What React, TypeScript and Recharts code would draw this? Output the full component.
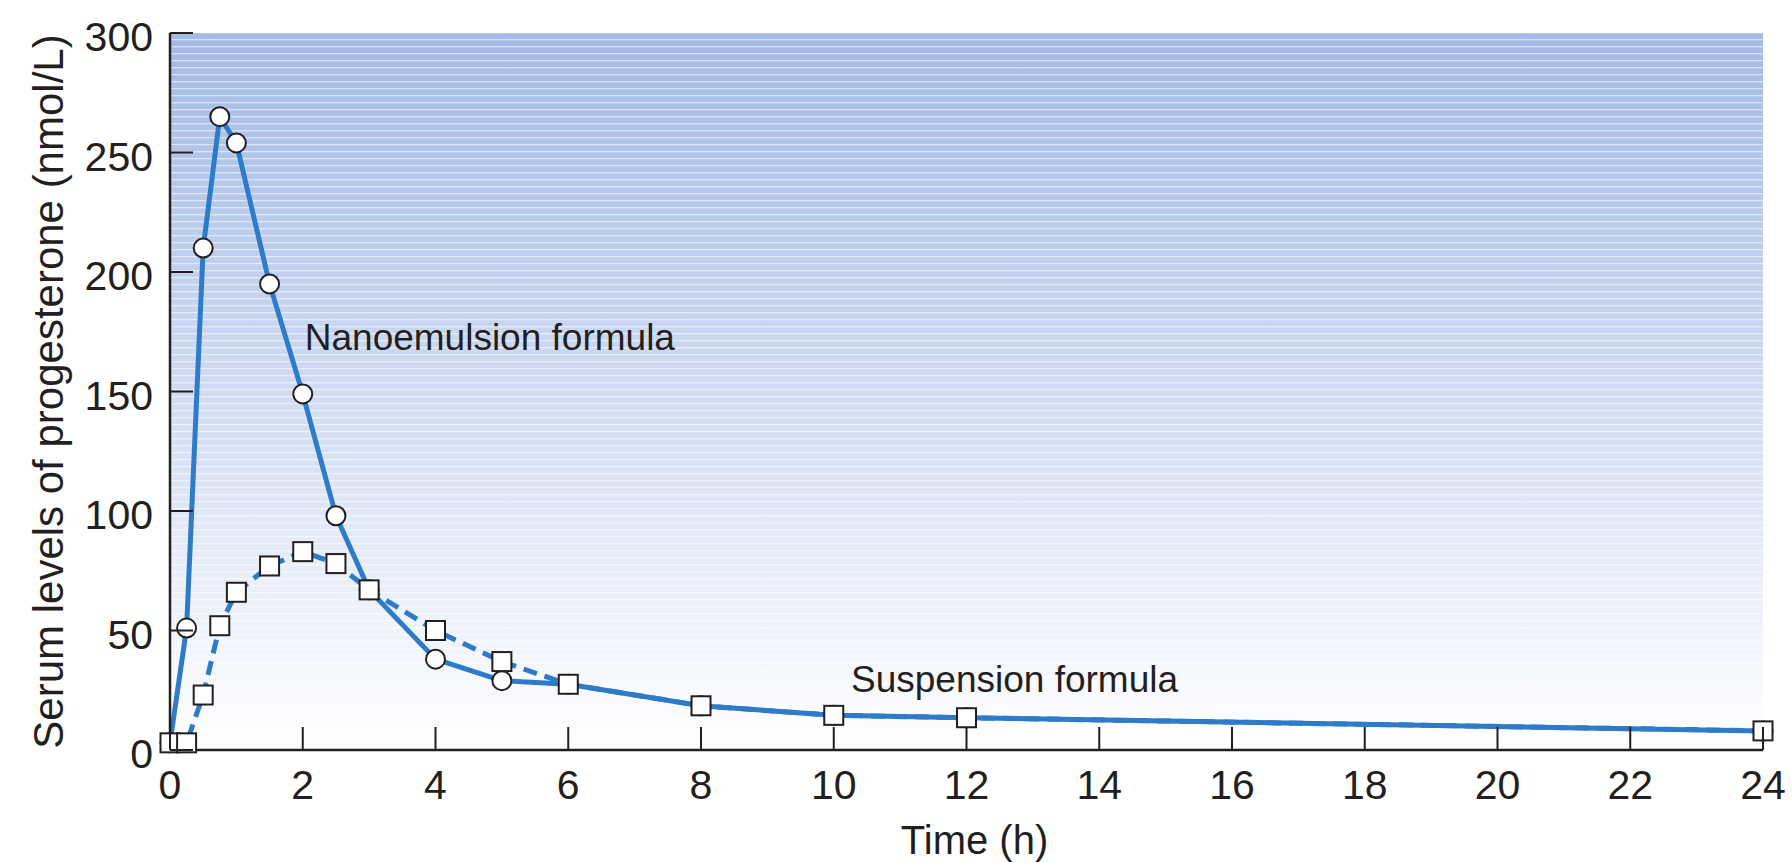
import React from 'react';
import { LineChart, Line, XAxis, YAxis, CartesianGrid, ReferenceDot } from 'recharts';

const times = [0, 0.25, 0.5, 0.75, 1, 1.5, 2, 2.5, 3, 4, 5, 6, 8, 10, 12, 24];
const nanoemulsion = [3, 51, 210, 265, 254, 195, 149, 98, 67, 38, 29, 27.5, 18.5, 14.5, 13.5, 8];
const suspension = [3, 3, 23, 52, 66, 77, 83, 78, 67, 50, 37, 27.5, 18.5, 14.5, 13.5, 8];
const xTicks = [0, 2, 4, 6, 8, 10, 12, 14, 16, 18, 20, 22, 24];
const yTicks = [0, 50, 100, 150, 200, 250, 300];

const data = times.map((t, i) => ({ t, nano: nanoemulsion[i], susp: suspension[i] }));

const INK = '#231f20';
const BLUE = '#2d7bc9';
const FONT = '"Liberation Sans", Arial, Helvetica, sans-serif';

const YTick = (props: any) => {
  const { x, y, payload } = props;
  return (
    <g>
      <line x1={x + 17} x2={x + 40} y1={y} y2={y} stroke={INK} strokeWidth={2} />
      <text x={x} y={y} dy={18} textAnchor="end" fontSize={41} fill={INK} fontFamily={FONT}>
        {payload.value}
      </text>
    </g>
  );
};

const XTick = (props: any) => {
  const { x, y, payload } = props;
  return (
    <g>
      <line x1={x} x2={x} y1={y - 11} y2={y - 34} stroke={INK} strokeWidth={2} />
      <text x={x} y={y} dy={38} textAnchor="middle" fontSize={41} fill={INK} fontFamily={FONT}>
        {payload.value}
      </text>
    </g>
  );
};

const CircleDot = (props: any) => {
  const { cx, cy } = props;
  if (cx == null || cy == null) return null;
  return <circle cx={cx} cy={cy} r={9.5} fill="#fff" stroke={INK} strokeWidth={2} />;
};

const SquareDot = (props: any) => {
  const { cx, cy } = props;
  if (cx == null || cy == null) return null;
  return <rect x={cx - 9.5} y={cy - 9.5} width={19} height={19} fill="#fff" stroke={INK} strokeWidth={2} />;
};

const YTitle = (props: any) => {
  const { viewBox } = props;
  const cx = 40;
  const cy = viewBox.y + viewBox.height / 2;
  return (
    <text x={cx} y={cy} transform={`rotate(-90 ${cx} ${cy})`} textAnchor="middle" dominantBaseline="central" fontSize={42} fill={INK} fontFamily={FONT}>
      Serum levels of progesterone (nmol/L)
    </text>
  );
};

const XTitle = (props: any) => {
  const { viewBox } = props;
  const cx = viewBox.x + viewBox.width / 2 + 8;
  return (
    <text x={cx} y={viewBox.y + 104} textAnchor="middle" fontSize={40} fill={INK} fontFamily={FONT}>
      Time (h)
    </text>
  );
};

const NoteLabel = (text: string) => (props: any) => {
  const { viewBox } = props;
  const x = viewBox.x + viewBox.width / 2 + 2;
  const y = viewBox.y + viewBox.height / 2;
  return (
    <text x={x} y={y} dy={13} textAnchor="start" fontSize={37} fill={INK} fontFamily={FONT}>
      {text}
    </text>
  );
};

export default function App() {
  return (
    <div style={{ position: 'absolute', left: 8, top: 8, width: 1784, height: 855 }}>
      <LineChart width={1784} height={855} data={data} margin={{ top: 25, right: 29, bottom: 13, left: 62 }}>
        <defs>
          <linearGradient id="bgGrad" x1="0" y1="0" x2="0" y2="1">
            <stop offset="0%" stopColor="#a2bae5" />
            <stop offset="55%" stopColor="#d5dff4" />
            <stop offset="100%" stopColor="#ffffff" />
          </linearGradient>
          <pattern id="stripes" patternUnits="userSpaceOnUse" width={20} height={7}>
            <rect x={0} y={3} width={20} height={1.3} fill="#ffffff" fillOpacity={0.55} />
          </pattern>
        </defs>
        <CartesianGrid horizontal={false} vertical={false} fill="url(#bgGrad)" fillOpacity={1} />
        <CartesianGrid horizontal={false} vertical={false} fill="url(#stripes)" fillOpacity={1} />
        <XAxis
          dataKey="t"
          type="number"
          domain={[0, 24]}
          ticks={xTicks}
          interval={0}
          tickSize={0}
          tickMargin={11}
          tickLine={false}
          tick={<XTick />}
          axisLine={{ stroke: INK, strokeWidth: 2.5 }}
          height={100}
          label={<XTitle />}
        />
        <YAxis
          type="number"
          domain={[0, 300]}
          ticks={yTicks}
          interval={0}
          tickSize={0}
          tickMargin={17}
          tickLine={false}
          tick={<YTick />}
          axisLine={{ stroke: INK, strokeWidth: 2.5 }}
          width={100}
          label={<YTitle />}
        />
        <Line
          type="linear"
          dataKey="nano"
          stroke={BLUE}
          strokeWidth={5}
          dot={<CircleDot />}
          activeDot={false}
          isAnimationActive={false}
        />
        <Line
          type="linear"
          dataKey="susp"
          stroke={BLUE}
          strokeWidth={5}
          strokeDasharray="14 8"
          dot={<SquareDot />}
          activeDot={false}
          isAnimationActive={false}
        />
        <ReferenceDot x={2} y={173} r={0} fill="none" stroke="none" label={NoteLabel('Nanoemulsion formula')} />
        <ReferenceDot x={10.23} y={29.7} r={0} fill="none" stroke="none" label={NoteLabel('Suspension formula')} />
      </LineChart>
    </div>
  );
}
